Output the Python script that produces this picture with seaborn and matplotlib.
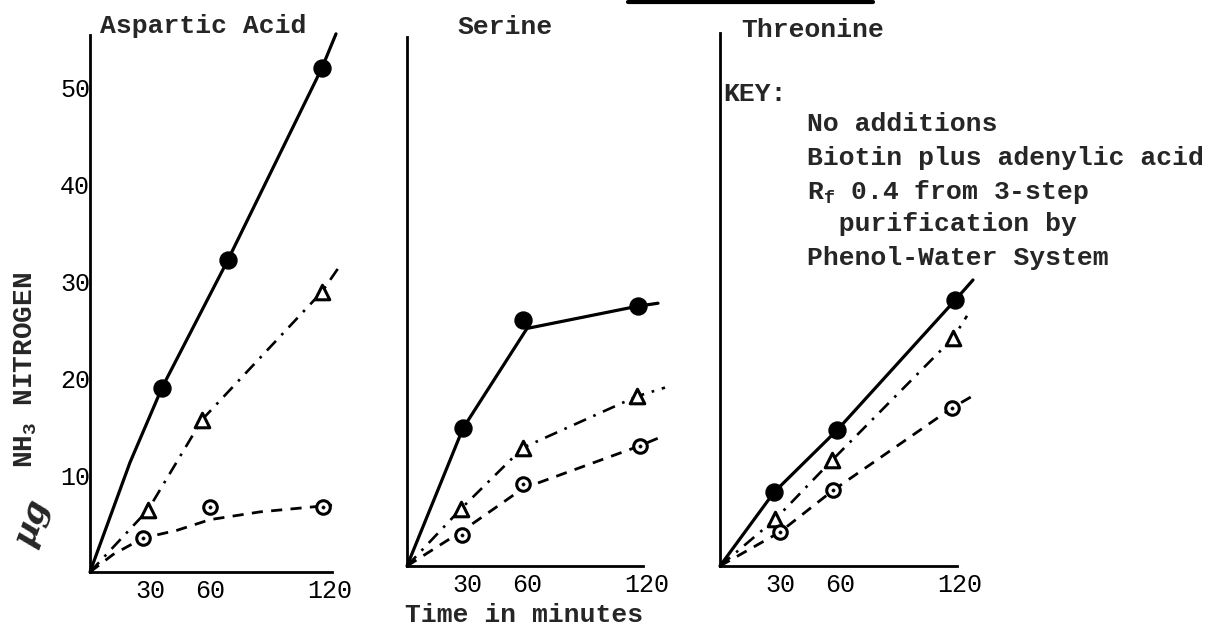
import matplotlib
matplotlib.use("Agg")
import matplotlib.pyplot as plt
from matplotlib.lines import Line2D
import pandas as pd
import seaborn as sns

# ---- values (minutes, ug NH3 nitrogen) ----
panels = ["Aspartic Acid", "Serine", "Threonine"]
x_ticks = [30, 60, 120]
y_ticks = [10, 20, 30, 40, 50]
key_text = ["No additions",
            "Biotin plus adenylic acid",
            r"R$_{\mathbf{f}}$ 0.4 from 3-step",
            "  purification by",
            "Phenol-Water System"]

# Aspartic acid
asp_solid_t = [36, 69, 116]
asp_solid_v = [19.0, 32.2, 52.0]
asp_solid_line_t = [0, 20, 36, 69, 116, 123]
asp_solid_line_v = [0, 11.3, 19.0, 32.2, 52.0, 55.5]
asp_tri_t = [29, 56, 116]
asp_tri_v = [6.4, 15.7, 28.9]
asp_tri_line_t = [0, 29, 56, 116, 125]
asp_tri_line_v = [0, 6.4, 15.7, 28.9, 31.6]
asp_circ_t = [26.5, 60, 116.5]
asp_circ_v = [3.5, 6.7, 6.7]
asp_circ_line_t = [0, 11.5, 26.5, 43.5, 60, 85, 121]
asp_circ_line_v = [0, 1.8, 3.5, 4.3, 5.4, 6.2, 6.9]

# Serine
ser_solid_t = [28, 58, 115.5]
ser_solid_v = [14.2, 25.4, 26.8]
ser_solid_line_t = [0, 28, 60, 115.5, 125.5]
ser_solid_line_v = [0, 14.2, 24.5, 26.8, 27.1]
ser_tri_t = [27, 58, 115]
ser_tri_v = [5.9, 12.2, 17.5]
ser_tri_line_t = [0, 27, 58, 115, 129]
ser_tri_line_v = [0, 5.9, 12.2, 17.5, 18.4]
ser_circ_t = [27.5, 58, 116.5]
ser_circ_v = [3.2, 8.5, 12.4]
ser_circ_line_t = [0, 27.5, 58, 116.5, 128]
ser_circ_line_v = [0, 3.6, 8.0, 12.4, 13.4]

# Threonine
thr_solid_t = [27, 58.5, 117.5]
thr_solid_v = [7.6, 14.0, 27.4]
thr_solid_line_t = [0, 27, 58.5, 117.5, 126.5]
thr_solid_line_v = [0, 7.6, 14.0, 27.4, 29.5]
thr_tri_t = [27.5, 56, 116.5]
thr_tri_v = [4.8, 10.9, 23.5]
thr_tri_line_t = [0, 27.5, 56, 116.5, 123.5]
thr_tri_line_v = [0, 4.8, 10.9, 23.5, 25.8]
thr_circ_t = [30, 56.5, 116]
thr_circ_v = [3.5, 7.8, 16.3]
thr_circ_line_t = [0, 30, 56.5, 116, 126]
thr_circ_line_v = [0, 3.5, 7.8, 16.3, 17.5]

lines = [
    (0, "solid", asp_solid_line_t, asp_solid_line_v, asp_solid_t, asp_solid_v),
    (0, "tri", asp_tri_line_t, asp_tri_line_v, asp_tri_t, asp_tri_v),
    (0, "circ", asp_circ_line_t, asp_circ_line_v, asp_circ_t, asp_circ_v),
    (1, "solid", ser_solid_line_t, ser_solid_line_v, ser_solid_t, ser_solid_v),
    (1, "tri", ser_tri_line_t, ser_tri_line_v, ser_tri_t, ser_tri_v),
    (1, "circ", ser_circ_line_t, ser_circ_line_v, ser_circ_t, ser_circ_v),
    (2, "solid", thr_solid_line_t, thr_solid_line_v, thr_solid_t, thr_solid_v),
    (2, "tri", thr_tri_line_t, thr_tri_line_v, thr_tri_t, thr_tri_v),
    (2, "circ", thr_circ_line_t, thr_circ_line_v, thr_circ_t, thr_circ_v),
]

sns.set_style("white")
plt.rcParams["font.family"] = ["Liberation Mono", "DejaVu Sans Mono"]
plt.rcParams["mathtext.fontset"] = "custom"
plt.rcParams["mathtext.rm"] = "Liberation Mono"
plt.rcParams["mathtext.bf"] = "Liberation Mono:bold"
plt.rcParams["mathtext.it"] = "Liberation Mono:italic"

W, H = 1213, 626
fig = plt.figure(figsize=(W / 100, H / 100), dpi=100)

# axes corners in pixels (x, y from top) and spine ends
corners = [(90, 572), (407, 566), (720, 566)]
x_end = [121, 118, 118.5]
y_end = [55.4, 54.6, 55.0]
xmax, ymax = 125, 56
ax_w, ax_h = 250, 543

styles = {
    "solid": dict(linestyle="-", lw=2.3),
    "tri": dict(linestyle=(0, (5, 3, 1, 3)), lw=1.9),
    "circ": dict(linestyle=(0, (4, 3)), lw=2.0),
}

axes = []
for i, (cx, cy) in enumerate(corners):
    ax = fig.add_axes([cx / W, (H - cy) / H, ax_w / W, ax_h / H])
    ax.set_xlim(0, xmax)
    ax.set_ylim(0, ymax)
    ax.patch.set_alpha(0)
    for s in ["top", "right"]:
        ax.spines[s].set_visible(False)
    for s in ["left", "bottom"]:
        ax.spines[s].set_color("black")
        ax.spines[s].set_linewidth(2.0)
    ax.spines["bottom"].set_bounds(0, x_end[i])
    ax.spines["left"].set_bounds(0, y_end[i])
    ax.set_xticks(x_ticks)
    ax.set_xticklabels([str(t) for t in x_ticks], fontsize=18)
    if i == 0:
        ax.set_yticks(y_ticks)
        ax.set_yticklabels([str(t) for t in y_ticks], fontsize=18)
    else:
        ax.set_yticks([])
    ax.tick_params(axis="both", length=0, colors="black")
    ax.tick_params(axis="x", pad=5)
    ax.tick_params(axis="y", pad=0)
    axes.append(ax)

for p, kind, lt, lv, mt, mv in lines:
    ax = axes[p]
    df_line = pd.DataFrame({"t": lt, "v": lv})
    sns.lineplot(data=df_line, x="t", y="v", ax=ax, color="black",
                 sort=False, estimator=None, clip_on=False, **styles[kind])
    df_pts = pd.DataFrame({"t": mt, "v": mv})
    if kind == "solid":
        sns.scatterplot(data=df_pts, x="t", y="v", ax=ax, marker="o", s=150,
                        color="black", edgecolor="black", zorder=3, clip_on=False)
    elif kind == "tri":
        sns.scatterplot(data=df_pts, x="t", y="v", ax=ax, marker="^", s=110,
                        color="white", edgecolor="black", linewidth=2.2,
                        zorder=3, clip_on=False)
    else:
        sns.scatterplot(data=df_pts, x="t", y="v", ax=ax, marker="o", s=95,
                        color="white", edgecolor="black", linewidth=2.2,
                        zorder=3, clip_on=False)
        sns.scatterplot(data=df_pts, x="t", y="v", ax=ax, marker="o", s=6,
                        color="black", edgecolor="black", zorder=4, clip_on=False)
    ax.set_xlabel("")
    ax.set_ylabel("")

# titles
title_pos = [(0.452, 1.005), (0.392, 0.993), (0.372, 0.987)]
for ax, name, (tx, ty) in zip(axes, panels, title_pos):
    ax.text(tx, ty, name, transform=ax.transAxes, ha="center", va="center",
            fontsize=19, fontweight="bold")

# key in the threonine panel
ax3 = axes[2]
ax3.text(0.012, 0.869, "KEY:", transform=ax3.transAxes, ha="left", va="center",
         fontsize=19, fontweight="bold")
key_y = [0.814, 0.751, 0.689, 0.630, 0.567]
for line, ky in zip(key_text, key_y):
    ax3.text(0.348, ky, line, transform=ax3.transAxes, ha="left", va="center",
             fontsize=19, fontweight="bold")

# axis labels
fig.text(524 / W, (H - 615) / H, "Time in minutes", ha="center", va="center",
         fontsize=19, fontweight="bold")
fig.text(26 / W, (H - 370) / H, r"NH$_{\mathbf{3}}$ NITROGEN", rotation=90,
         ha="center", va="center", fontsize=20, fontweight="bold")
fig.text(32 / W, (H - 522) / H, "µg", rotation=70, ha="center", va="center",
         fontsize=24, fontstyle="italic", fontweight="bold",
         family=["DejaVu Serif"])

# stray underline at the top edge of the scan
fig.add_artist(Line2D([628 / W, 873 / W], [(H - 2) / H, (H - 2) / H],
                      color="black", lw=3, transform=fig.transFigure))

fig.savefig("out.png", dpi=100, facecolor="white")
